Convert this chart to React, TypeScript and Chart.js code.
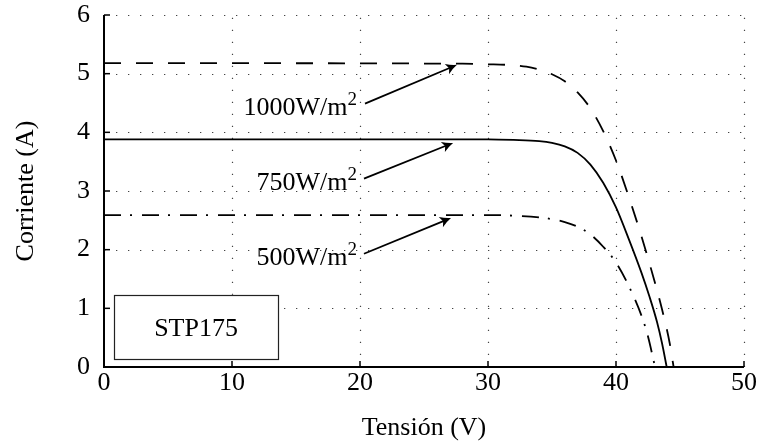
import React, { useEffect, useRef } from "react";
import { Chart, registerables } from "chart.js";

Chart.register(...registerables);

// I-V curves of the STP175 module at three irradiance levels
const voltage1000 = [0, 28, 30, 31.5, 33, 34, 35, 36, 37, 38, 39, 40, 41, 42, 43, 43.6, 44.2, 44.5];
const current1000 = [5.18, 5.17, 5.16, 5.15, 5.12, 5.07, 4.99, 4.87, 4.68, 4.41, 4.02, 3.52, 2.9, 2.22, 1.47, 0.98, 0.4, 0];

const voltage750 = [0, 30, 32, 34, 35, 36, 37, 38, 39, 40, 41, 42, 42.6, 43.2, 43.6, 43.96];
const current750 = [3.88, 3.88, 3.87, 3.85, 3.82, 3.76, 3.65, 3.45, 3.14, 2.72, 2.18, 1.6, 1.21, 0.77, 0.4, 0];

const voltage500 = [0, 30, 32, 34, 35, 36, 37, 38, 39, 40, 41, 42, 42.5, 43.05];
const current500 = [2.59, 2.59, 2.58, 2.55, 2.52, 2.47, 2.39, 2.26, 2.05, 1.78, 1.38, 0.87, 0.52, 0];

const xTicks = [0, 10, 20, 30, 40, 50];
const yTicks = [0, 1, 2, 3, 4, 5, 6];

const irradianceLabels = ["1000", "750", "500"];
const unitText = "W/m";
const unitSup = "2";
const moduleName = "STP175";
const xTitle = "Tensión (V)";
const yTitle = "Corriente (A)";

const FONT = "'Liberation Serif', 'Times New Roman', serif";

const toPoints = (xs: number[], ys: number[]) => xs.map((x, i) => ({ x, y: ys[i] }));

function drawArrow(ctx: CanvasRenderingContext2D, x1: number, y1: number, x2: number, y2: number) {
  const ang = Math.atan2(y2 - y1, x2 - x1);
  ctx.save();
  ctx.strokeStyle = "#000";
  ctx.fillStyle = "#000";
  ctx.lineWidth = 1.8;
  ctx.setLineDash([]);
  ctx.beginPath();
  ctx.moveTo(x1, y1);
  ctx.lineTo(x2 - Math.cos(ang) * 3, y2 - Math.sin(ang) * 3);
  ctx.stroke();
  ctx.translate(x2, y2);
  ctx.rotate(ang);
  ctx.beginPath();
  ctx.moveTo(0, 0);
  ctx.quadraticCurveTo(-5, -1.5, -11, -5.5);
  ctx.lineTo(-8.5, 0);
  ctx.lineTo(-11, 5.5);
  ctx.quadraticCurveTo(-5, 1.5, 0, 0);
  ctx.closePath();
  ctx.fill();
  ctx.restore();
}

const frame = {
  id: "frame",
  beforeDatasetsDraw(chart: any) {
    const { ctx, chartArea, scales } = chart;
    const { left, right, top, bottom } = chartArea;
    ctx.save();
    ctx.strokeStyle = "#444";
    ctx.lineWidth = 1.2;
    ctx.setLineDash([1.3, 10.7]);
    for (const v of xTicks) {
      if (v === 0) continue;
      const px = Math.round(scales.x.getPixelForValue(v)) + 0.5;
      ctx.beginPath();
      ctx.moveTo(px, bottom);
      ctx.lineTo(px, top);
      ctx.stroke();
    }
    for (const v of yTicks) {
      if (v === 0) continue;
      const py = Math.round(scales.y.getPixelForValue(v)) + 0.5;
      ctx.beginPath();
      ctx.moveTo(left, py);
      ctx.lineTo(right, py);
      ctx.stroke();
    }
    ctx.restore();
  },
  afterDatasetsDraw(chart: any) {
    const { ctx, chartArea, scales } = chart;
    const { left, right, top, bottom } = chartArea;
    const X = (v: number) => scales.x.getPixelForValue(v);
    const Y = (v: number) => scales.y.getPixelForValue(v);

    ctx.save();
    ctx.setLineDash([]);
    ctx.strokeStyle = "#000";
    // axis lines
    ctx.lineWidth = 2;
    ctx.beginPath();
    ctx.moveTo(left, top);
    ctx.lineTo(left, bottom);
    ctx.lineTo(right, bottom);
    ctx.stroke();
    // inward tick marks
    ctx.lineWidth = 1.5;
    for (const v of yTicks) {
      if (v === 0) continue;
      const py = Y(v);
      ctx.beginPath();
      ctx.moveTo(left, py);
      ctx.lineTo(left + 6, py);
      ctx.stroke();
    }
    for (const v of xTicks) {
      if (v === 0) continue;
      const px = X(v);
      ctx.beginPath();
      ctx.moveTo(px, bottom);
      ctx.lineTo(px, bottom - 6);
      ctx.stroke();
    }

    // module name box
    const bx1 = X(0.78), bx2 = X(13.6), by1 = Y(1.23), by2 = Y(0.14);
    ctx.fillStyle = "#fff";
    ctx.fillRect(bx1, by1, bx2 - bx1, by2 - by1);
    ctx.lineWidth = 1.2;
    ctx.strokeStyle = "#222";
    ctx.strokeRect(Math.round(bx1) + 0.5, Math.round(by1) + 0.5, Math.round(bx2 - bx1), Math.round(by2 - by1));
    ctx.fillStyle = "#000";
    ctx.font = `26px ${FONT}`;
    ctx.textAlign = "center";
    ctx.textBaseline = "alphabetic";
    ctx.fillText(moduleName, (bx1 + bx2) / 2, (by1 + by2) / 2 + 9);

    // irradiance labels with arrows
    const labelBase = [4.3, 3.02, 1.74];
    const arrowFrom = [[20.39, 4.49], [20.31, 3.21], [20.31, 1.93]];
    const arrowTo = [[27.58, 5.15], [27.27, 3.82], [27.11, 2.54]];
    irradianceLabels.forEach((lab, i) => {
      const rightEdge = X(19.77);
      const base = Y(labelBase[i]);
      ctx.textAlign = "left";
      ctx.font = `19px ${FONT}`;
      const sw = ctx.measureText(unitSup).width;
      ctx.font = `26px ${FONT}`;
      const main = lab + unitText;
      const mw = ctx.measureText(main).width;
      ctx.fillText(main, rightEdge - sw - mw, base);
      ctx.font = `19px ${FONT}`;
      ctx.fillText(unitSup, rightEdge - sw, base - 10);
      drawArrow(ctx, X(arrowFrom[i][0]), Y(arrowFrom[i][1]), X(arrowTo[i][0]), Y(arrowTo[i][1]));
    });

    // axis titles
    ctx.font = `26px ${FONT}`;
    ctx.fillStyle = "#000";
    ctx.textAlign = "center";
    ctx.textBaseline = "alphabetic";
    ctx.fillText(xTitle, (left + right) / 2, 435);
    ctx.save();
    ctx.translate(33, (top + bottom) / 2);
    ctx.rotate(-Math.PI / 2);
    ctx.fillText(yTitle, 0, 0);
    ctx.restore();
    ctx.restore();
  },
};

export default function App() {
  const canvasRef = useRef<HTMLCanvasElement | null>(null);

  useEffect(() => {
    if (!canvasRef.current) return;
    const tickFont = { family: FONT, size: 26 };
    const common = {
      borderColor: "#000",
      borderWidth: 1.8,
      pointRadius: 0,
      fill: false,
      cubicInterpolationMode: "monotone" as const,
    };
    const chart = new Chart(canvasRef.current, {
      type: "line",
      data: {
        datasets: [
          { ...common, label: irradianceLabels[0], data: toPoints(voltage1000, current1000), borderDash: [17, 15] },
          { ...common, label: irradianceLabels[1], data: toPoints(voltage750, current750) },
          { ...common, label: irradianceLabels[2], data: toPoints(voltage500, current500), borderDash: [17, 9, 2, 10] },
        ],
      },
      options: {
        animation: false,
        responsive: false,
        maintainAspectRatio: false,
        layout: { padding: { top: 15, right: 14, left: 0, bottom: 0 } },
        plugins: { legend: { display: false }, tooltip: { enabled: false } },
        scales: {
          x: {
            type: "linear",
            min: 0,
            max: 50,
            afterBuildTicks: (s: any) => { s.ticks = xTicks.map((v) => ({ value: v })); },
            ticks: { font: tickFont, color: "#000", padding: 1, maxRotation: 0 },
            grid: { display: false, drawTicks: false },
            border: { display: false },
            afterFit: (s: any) => {
              s.height = 80;
              s.paddingLeft = 0;
              s.paddingRight = 0;
            },
          },
          y: {
            type: "linear",
            min: 0,
            max: 6,
            afterBuildTicks: (s: any) => { s.ticks = yTicks.map((v) => ({ value: v })); },
            ticks: { font: tickFont, color: "#000", padding: 14 },
            grid: { display: false, drawTicks: false },
            border: { display: false },
            afterFit: (s: any) => {
              s.width = 104;
              s.paddingTop = 0;
              s.paddingBottom = 0;
            },
          },
        },
      },
      plugins: [frame],
    });
    return () => chart.destroy();
  }, []);

  return (
    <div style={{ position: "absolute", left: 0, top: 0, width: 758, height: 447, background: "#fff" }}>
      <canvas ref={canvasRef} width={758} height={447} />
    </div>
  );
}
